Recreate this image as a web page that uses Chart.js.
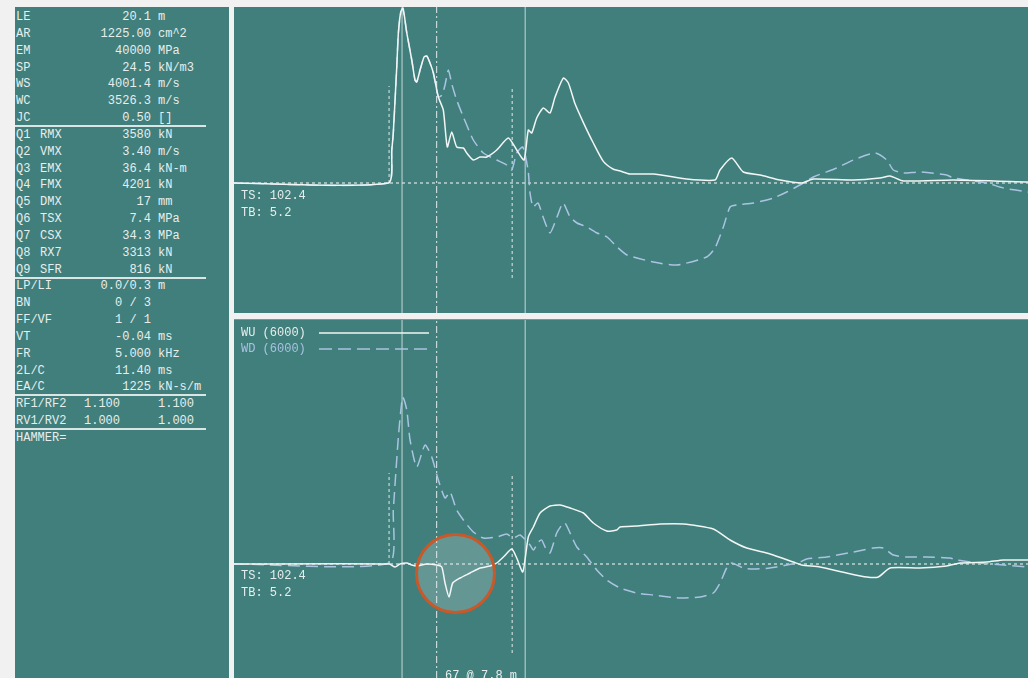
<!DOCTYPE html>
<html>
<head>
<meta charset="utf-8">
<script src="https://cdn.jsdelivr.net/npm/chart.js@4.4.0/dist/chart.umd.min.js"></script>
<style>
  html, body { margin:0; padding:0; width:1028px; height:678px; overflow:hidden; background:#f1f1f1;
    font-family:"Liberation Mono","DejaVu Sans Mono",monospace; }
  .panel { position:absolute; background:#407f7b; overflow:hidden; }
  #info { left:15px; top:7px; width:214px; height:671px; }
  #topPanel { left:234px; top:7px; width:794px; height:306px; }
  #botPanel { left:234px; top:320px; width:794px; height:358px; box-shadow:0 -1px 0 #8e8e8e; }
  canvas { position:absolute; left:0; top:0; }
  .t { position:absolute; font-size:12px; line-height:14px; color:#e6eeee; white-space:pre; }
  .r { text-align:right; }
  .sep { position:absolute; height:2px; background:#d9e6e5; }
</style>
</head>
<body>
<div id="info" class="panel"></div>
<div id="topPanel" class="panel"><canvas id="topChart" width="794" height="306"></canvas></div>
<div id="botPanel" class="panel"><canvas id="botChart" width="794" height="358"></canvas></div>
<div id="labels"></div>

<script>
// ---- pile record: time in ms from impact, force-unit traces in kN ----
const forceT  = [-15.56,-1.27,-0.95,-0.81,-0.49,-0.34,-0.12,0.09,0.44,0.90,1.20,1.36,1.67,2.04,2.29,2.59,2.90,3.36,3.82,4.19,4.60,5.06,5.68,5.99,6.60,7.22,7.84,8.77,9.84,10.62,11.30,11.69,12.01,12.47,13.08,13.70,14.17,14.94,15.40,16.02,16.79,17.71,18.64,19.57,20.19,21.11,23.27,26.36,28.98,29.44,30.53,31.60,33.15,35.00,37.01,38.08,41.79,44.26,45.19,46.42,51.05,57.96];
const forceKN = [0,0,792,1200,2784,3600,4104,4201,3600,2952,2472,2424,2712,3024,3048,2880,2640,2064,1752,864,1224,864,840,720,552,624,624,792,1080,792,552,1272,1200,1560,1800,1680,2064,2520,2400,1900,1450,960,520,330,288,216,216,96,72,312,600,264,192,72,0,96,72,120,168,48,72,24];

const veloT  = [-15.56,-1.27,-0.95,-0.81,-0.49,-0.34,-0.12,0.09,0.44,0.90,1.20,1.36,1.67,2.04,2.29,2.59,2.90,3.36,3.70,3.98,4.29,4.63,5.06,5.68,6.60,7.53,8.77,9.69,10.16,10.62,11.18,11.67,11.85,12.13,12.59,13.06,13.70,14.35,14.91,15.56,16.20,17.13,18.06,18.98,19.91,20.83,23.27,25.43,28.21,28.98,29.75,30.37,30.99,32.53,34.38,35.62,37.01,38.08,40.25,41.79,43.80,44.88,45.49,46.42,47.96,50.43,51.05,54.14,55.68,57.96];
const veloZV = [0,0,792,1200,2784,3600,4080,4165,3600,2952,2472,2424,2712,3024,3048,2880,2640,2064,2112,2352,2712,2352,1992,1584,1032,720,552,432,312,720,864,312,-240,-576,-480,-816,-1200,-816,-480,-816,-960,-1056,-1200,-1296,-1536,-1728,-1896,-1968,-1776,-1560,-1056,-576,-528,-480,-360,-216,-24,144,360,552,720,552,312,240,264,192,120,0,-120,-216];

const wuT  = [-15.56,-1.20,-0.65,-0.19,0.44,0.90,1.36,2.29,3.21,3.68,3.98,4.35,4.69,5.37,6.30,7.22,8.15,8.77,9.38,10.16,10.62,11.18,11.69,12.16,12.78,13.70,14.63,15.56,16.79,17.71,18.95,19.88,20.19,21.73,23.89,26.05,28.82,30.37,31.92,34.07,36.23,37.01,38.70,41.18,43.03,44.10,45.19,47.96,50.43,51.67,54.14,55.68,57.96];
const wuKN = [0,0,-72,0,24,-24,-48,0,-24,-72,-456,-792,-456,-336,-216,-96,-48,24,168,360,144,-192,648,888,1224,1392,1416,1344,1224,984,792,816,888,912,960,960,840,576,384,240,48,-24,-72,-216,-312,-312,-96,-96,-48,24,48,96,96];

const wdT  = [-15.56,-1.18,-0.81,-0.34,0.06,0.44,0.74,1.36,2.13,2.75,3.36,3.98,4.44,5.06,5.68,6.60,7.53,8.77,9.69,10.31,10.93,11.85,12.16,12.62,12.93,13.24,13.70,14.32,14.79,15.09,15.56,16.18,17.10,18.03,18.95,20.19,21.73,23.27,25.74,27.59,28.82,29.44,30.06,30.53,31.60,32.53,34.07,35.62,36.85,37.47,39.32,41.79,43.64,44.57,45.49,46.73,48.58,50.74,51.36,53.52,55.68,57.96];
const wdKN = [0,24,1296,3048,4008,3696,2976,2328,2856,2568,2016,1584,1728,1296,1056,768,624,648,720,624,696,456,336,528,576,408,264,744,936,984,744,408,168,-144,-384,-576,-696,-744,-816,-792,-696,-456,-96,24,-96,-120,-96,-24,48,120,168,288,384,384,216,168,168,144,96,24,-24,-72];

// time markers (ms): impact and 2L/c, toe-reflection cursor, wave-up window
const markSolidT   = [0, 11.4];
const markDashDotT = [3.2];
const markDottedT  = [-1.2, 10.2];
const topDottedLo  = [0, -2280];
const topDottedHi  = [2328, 2328];
const botDottedLo  = [0, -2136];
const botDottedHi  = [2184, 2184];

// axis ranges
const T_RANGE   = [-15.56, 57.96];
const TOP_RANGE = [-3120, 4224];
const BOT_RANGE = [-2736, 5856];

// highlighted dip in the upward wave
const ringT = 4.95, ringV = -228;

// header values
const infoLabels = ["LE","AR","EM","SP","WS","WC","JC","Q1 RMX","Q2 VMX","Q3 EMX","Q4 FMX","Q5 DMX","Q6 TSX","Q7 CSX","Q8 RX7","Q9 SFR","LP/LI","BN","FF/VF","VT","FR","2L/C","EA/C","RF1/RF2","RV1/RV2","HAMMER="];
const infoValues = ["20.1","1225.00","40000","24.5","4001.4","3526.3","0.50","3580","3.40","36.4","4201","17","7.4","34.3","3313","816","0.0/0.3","0 / 3","1 / 1","-0.04","5.000","11.40","1225","1.100","1.000",""];
const infoUnits  = ["m","cm^2","MPa","kN/m3","m/s","m/s","[]","kN","m/s","kN-m","kN","mm","MPa","MPa","kN","kN","m","","","ms","kHz","ms","kN-s/m","1.100","1.000",""];
const separatorAfter = [6, 15, 22, 24];

// ---- info panel ----
const info = document.getElementById('info');
const ROW0 = 3, ROWH = 16.84;
infoLabels.forEach((lab, i) => {
  const top = ROW0 + i * ROWH;
  const add = (txt, css) => { const d = document.createElement('div'); d.className = 't'; d.textContent = txt; Object.assign(d.style, css); info.appendChild(d); };
  const parts = lab.match(/^(Q\d) (\w+)$/);
  if (parts) { add(parts[1], {left:'1px', top:top+'px'}); add(parts[2], {left:'25px', top:top+'px'}); }
  else add(lab, {left:'1px', top:top+'px'});
  if (lab.startsWith('RF') || lab.startsWith('RV')) {
    add(infoValues[i], {left:'69px', top:top+'px'});
  } else if (infoValues[i]) {
    add(infoValues[i], {right:(214-136)+'px', top:top+'px', textAlign:'right'});
  }
  if (infoUnits[i]) add(infoUnits[i], {left:'143px', top:top+'px'});
});
separatorAfter.forEach(i => {
  const s = document.createElement('div'); s.className = 'sep';
  s.style.left = '0px'; s.style.width = '191px';
  s.style.top = (ROW0 + i * ROWH + 14) + 'px';
  info.appendChild(s);
});

// ---- overlay texts ----
const overlay = [
  ["TS: 102.4", 241, 189, "#e6eeee"], ["TB: 5.2", 241, 206, "#e6eeee"],
  ["TS: 102.4", 241, 569, "#e6eeee"], ["TB: 5.2", 241, 586, "#e6eeee"],
  ["WU (6000)", 241, 326, "#e6eeee"], ["WD (6000)", 241, 342, "#a9c2e2"],
  ["67 @ 7.8 m", 445, 669, "#e6eeee"]
];
const lbl = document.getElementById('labels');
overlay.forEach(([txt, x, y, c]) => {
  const d = document.createElement('div'); d.className = 't'; d.textContent = txt;
  d.style.left = x + 'px'; d.style.top = y + 'px'; d.style.color = c; lbl.appendChild(d);
});

// ---- charts ----
const WHITE = '#f2f6f5', BLUE = '#aac4e3', GUIDE = 'rgba(222,232,231,0.85)';
const pts = (xs, ys) => xs.map((x, i) => ({x, y: ys[i]}));
const series = (data, color, width, dash, order, tension) => ({
  data, borderColor: color, borderWidth: width, borderDash: dash || [], pointRadius: 0,
  tension: tension || 0, fill: false, order
});

function guides(range, dottedLo, dottedHi) {
  const g = [];
  markSolidT.forEach(t => g.push(series([{x:t,y:range[0]},{x:t,y:range[1]}], GUIDE, 1, [], 20)));
  markDashDotT.forEach(t => g.push(series([{x:t,y:range[0]},{x:t,y:range[1]}], GUIDE, 1.2, [7,3,2,3], 20)));
  markDottedT.forEach((t, i) => g.push(series([{x:t,y:dottedLo[i]},{x:t,y:dottedHi[i]}], GUIDE, 1.2, [3,3], 20)));
  g.push(series([{x:T_RANGE[0],y:0},{x:T_RANGE[1],y:0}], GUIDE, 1.4, [3,3], 19));
  return g;
}

const ring = {
  id: 'ring',
  beforeDatasetsDraw(chart, a, o) {
    if (!o.on) return;
    const {ctx, scales:{x, y}} = chart;
    ctx.save(); ctx.beginPath();
    ctx.arc(x.getPixelForValue(ringT), y.getPixelForValue(ringV), 39, 0, Math.PI * 2);
    ctx.fillStyle = 'rgba(255,255,255,0.19)'; ctx.fill(); ctx.restore();
  },
  afterDatasetsDraw(chart, a, o) {
    if (!o.on) return;
    const {ctx, scales:{x, y}} = chart;
    ctx.save(); ctx.beginPath();
    ctx.arc(x.getPixelForValue(ringT), y.getPixelForValue(ringV), 39, 0, Math.PI * 2);
    ctx.lineWidth = 3; ctx.strokeStyle = '#c8592a'; ctx.stroke(); ctx.restore();
  }
};

// legend samples drawn beside the WU / WD captions
const keySamples = {
  id: 'keySamples',
  afterDraw(chart, a, o) {
    if (!o.on) return;
    const ctx = chart.ctx;
    ctx.save();
    ctx.lineWidth = 1.3;
    ctx.strokeStyle = WHITE; ctx.setLineDash([]);
    ctx.beginPath(); ctx.moveTo(85, 13); ctx.lineTo(195, 13); ctx.stroke();
    ctx.strokeStyle = BLUE; ctx.setLineDash([13, 6]);
    ctx.beginPath(); ctx.moveTo(85, 29); ctx.lineTo(195, 29); ctx.stroke();
    ctx.restore();
  }
};

function makeChart(id, yRange, solid, dashed, dLo, dHi, withRing, withKey) {
  return new Chart(document.getElementById(id), {
    type: 'line',
    data: { datasets: [
      series(solid, WHITE, 1.5, [], 1, 0.2),
      series(dashed, BLUE, 1.5, [12, 6], 2, 0.2),
      ...guides(yRange, dLo, dHi)
    ]},
    options: {
      responsive: false, animation: false, devicePixelRatio: 1, events: [],
      layout: { padding: 0 },
      parsing: true,
      scales: {
        x: { type: 'linear', min: T_RANGE[0], max: T_RANGE[1], display: false },
        y: { type: 'linear', min: yRange[0], max: yRange[1], display: false }
      },
      plugins: { legend: { display: false }, tooltip: { enabled: false },
        ring: { on: withRing }, keySamples: { on: withKey } }
    },
    plugins: [ring, keySamples]
  });
}

makeChart('topChart', TOP_RANGE, pts(forceT, forceKN), pts(veloT, veloZV), topDottedLo, topDottedHi, false, false);
makeChart('botChart', BOT_RANGE, pts(wuT, wuKN), pts(wdT, wdKN), botDottedLo, botDottedHi, true, true);
</script>
</body>
</html>
